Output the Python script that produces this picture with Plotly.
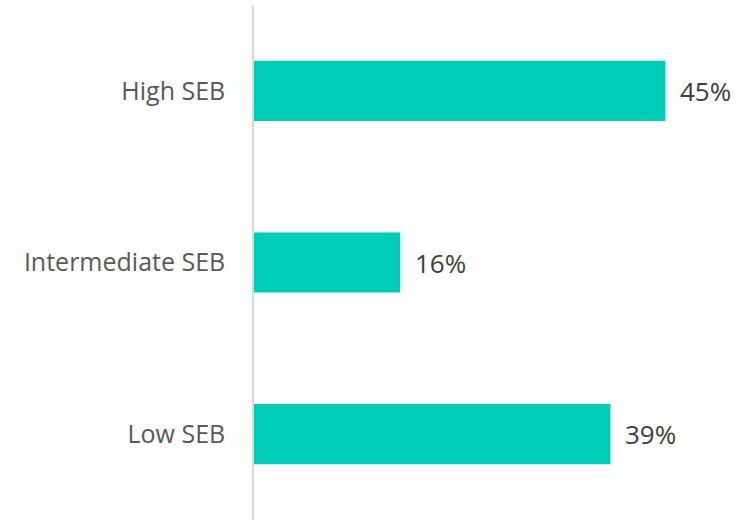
import plotly.graph_objects as go

categories = ["High SEB", "Intermediate SEB", "Low SEB"]
values = [45, 16, 39]
labels = ["45%", "16%", "39%"]

fig = go.Figure()
fig.add_trace(go.Bar(
    x=values, y=categories, orientation="h",
    marker=dict(color="#00CDB8", line=dict(width=0)),
    hoverinfo="skip",
))
for c, v, t in zip(categories, values, labels):
    fig.add_annotation(x=v, y=c, text=t, showarrow=False, xanchor="left",
                       xshift=13, font=dict(family="Open Sans", size=26, color="#404040"))

fig.update_layout(
    width=743, height=520,
    margin=dict(l=254, r=0, t=5, b=0),
    plot_bgcolor="white", paper_bgcolor="white",
    bargap=0.65, showlegend=False,
    xaxis=dict(range=[0, 53.5], visible=False),
    yaxis=dict(categoryorder="array", categoryarray=categories[::-1],
               showline=True, linecolor="#d9d9d9", linewidth=1.5,
               showgrid=False, ticks="outside", ticklen=22, tickcolor="rgba(0,0,0,0)",
               tickfont=dict(family="Open Sans", size=25, color="#595959")),
)
fig.write_html("out.html")
